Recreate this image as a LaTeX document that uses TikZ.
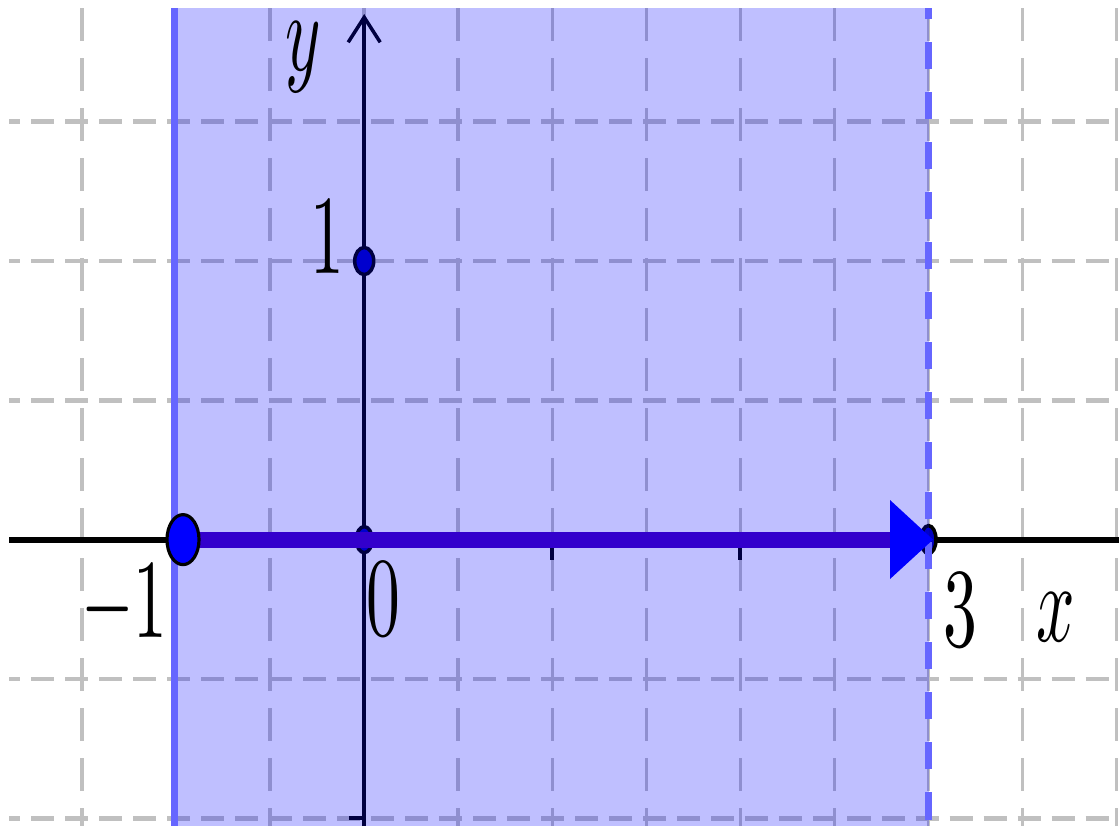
\documentclass[tikz,border=0pt]{standalone}
\usetikzlibrary{arrows.meta,shapes.geometric}
\definecolor{segcol}{RGB}{51,0,204}
\definecolor{gridgray}{RGB}{192,192,192}
\definecolor{dotfill}{RGB}{0,0,190}
\newcommand{\lbl}[1]{\scalebox{1.92}[3.2]{$#1$}}
\begin{document}
\begin{tikzpicture}[x=0.01cm,y=-0.01cm,
  vgrid/.style={gridgray, line width=1.0pt, dash pattern=on 0.33cm off 0.17cm},
  hgrid/.style={gridgray, line width=1.3pt, dash pattern=on 0.23cm off 0.11cm, dash phase=0.12cm},
  lab/.style={inner sep=0pt, anchor=base},
  tickmark/.style={black, line width=1.1pt},
  ptdot/.style={ellipse, fill=dotfill, draw=black, line width=1pt, inner sep=0pt}]
\useasboundingbox (0,0) rectangle (1119,826);
% grid
\foreach \k in {0,...,11} \draw[vgrid] ({82+94.06*\k},8) -- ({82+94.06*\k},826);
\foreach \k in {0,...,5} \draw[hgrid] (9,{121.7+139.3*\k}) -- (1119,{121.7+139.3*\k});
% axes
\coordinate (xl) at (9,539.6);
\coordinate (xr) at (1119,539.6);
\coordinate (yb) at (364.2,826);
\coordinate (yt) at (364.2,14);
\draw[black, line width=1.7pt] (xl) -- (xr);
\draw[black, line width=1pt, -{Straight Barb[length=0.25cm,width=0.32cm]}] (yb) -- (yt);
% ticks
\coordinate (t1) at (552.3,539.6); \coordinate (t1b) at (552.3,560);
\coordinate (t2) at (740.4,539.6); \coordinate (t2b) at (740.4,560);
\coordinate (tm) at (364.2,818.2); \coordinate (tmb) at (349,818.2);
\draw[tickmark] (t1) -- (t1b);
\draw[tickmark] (t2) -- (t2b);
\draw[tickmark] (tm) -- (tmb);
% small points
\node[ptdot, minimum width=0.16cm, minimum height=0.26cm] (o) at (364.2,539.6) {};
\node[ptdot, minimum width=0.19cm, minimum height=0.27cm] (one) at (364.2,261) {};
\node[ptdot, minimum width=0.15cm, minimum height=0.28cm] (three) at (928.5,539.6) {};
% shaded region
\fill[blue, fill opacity=0.25] (174.5,8) rectangle (928.5,826);
\coordinate (lt) at (174.5,8); \coordinate (lb) at (174.5,826);
\coordinate (rt) at (928.5,8); \coordinate (rb) at (928.5,826);
\draw[blue!60, line width=2pt] (lt) -- (lb);
\draw[blue!60, line width=2.2pt, dash pattern=on 0.27cm off 0.23cm, dash phase=0.16cm] (rt) -- (rb);
% thick segment
\coordinate (ab) at (892,539.6);
\draw[segcol, line width=4.55pt] (183,539.6) -- (ab);
\fill[blue] (890,500) -- (933,539.6) -- (890,579) -- cycle;
\node[ellipse, fill=blue, draw=black, line width=0.9pt, inner sep=0pt, minimum width=0.32cm, minimum height=0.5cm] (m1) at (183,539.6) {};
% labels
\node[lab] (lm1) at (124.5,637) {\lbl{-1}};
\node[lab] (l0) at (383.5,635) {\lbl{0}};
\node[lab] (l3) at (960,646) {\lbl{3}};
\node[lab] (lx) at (1056,641) {\lbl{x}};
\node[lab] (ly) at (303.5,70) {\lbl{y}};
\node[lab] (l1) at (327.5,273) {\lbl{1}};
\end{tikzpicture}
\end{document}
